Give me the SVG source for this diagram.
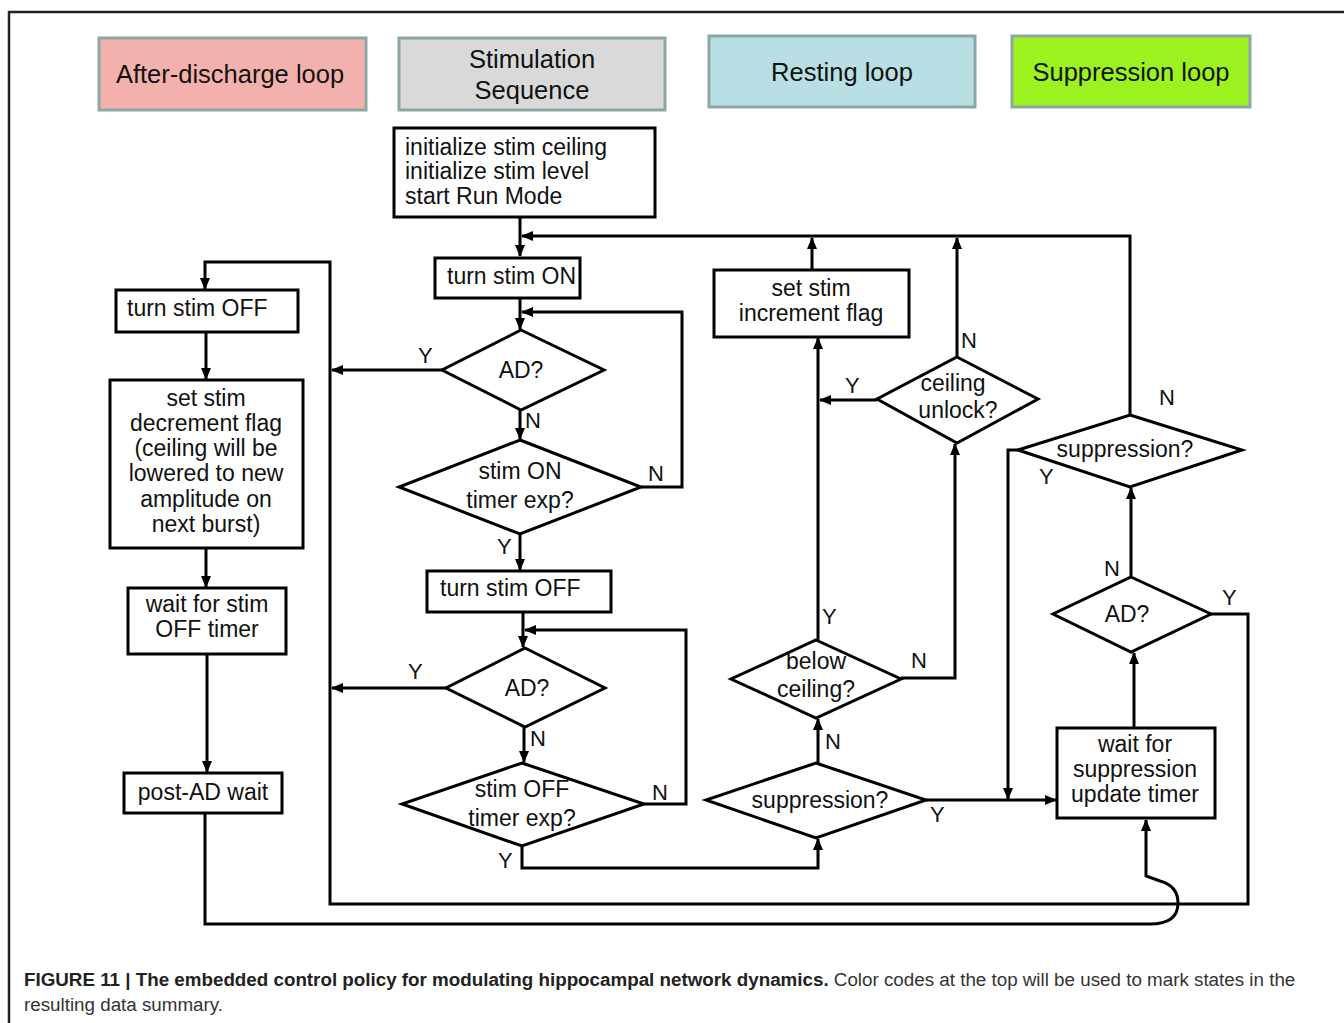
<svg xmlns="http://www.w3.org/2000/svg" width="1344" height="1023" viewBox="0 0 1344 1023">
<style>
.t{font-family:"Liberation Sans",Arial,sans-serif;font-size:23px;fill:#111}
.h{font-family:"Liberation Sans",Arial,sans-serif;font-size:25.5px;fill:#111;text-anchor:middle}
.c{text-anchor:middle}
.lab{font-family:"Liberation Sans",Arial,sans-serif;font-size:22px;fill:#111}
.box{fill:#fff;stroke:#000;stroke-width:3}
.hb{stroke:#8ca6a6;stroke-width:3}
.ln{fill:none;stroke:#000;stroke-width:3;stroke-linejoin:miter}
.cap{font-family:"Liberation Sans",Arial,sans-serif;font-size:18.8px;fill:#333}
</style>
<defs>
<marker id="ar" markerUnits="userSpaceOnUse" markerWidth="12" markerHeight="10" refX="11" refY="5" orient="auto">
<path d="M0,0 L12,5 L0,10 z" fill="#000"/>
</marker>
</defs>
<rect width="1344" height="1023" fill="#fff"/>
<path d="M9,1023 V12 H1344" fill="none" stroke="#222" stroke-width="2.5"/>

<g id="legend">
<g id="leg-ad"><rect class="hb" x="99" y="38" width="267" height="72" fill="#f3b1ae"/><text class="h" x="230" y="83">After-discharge  loop</text></g>
<g id="leg-stim"><rect class="hb" x="399" y="38" width="266" height="72" fill="#d9d9d9"/><text class="h" x="532" y="68">Stimulation</text><text class="h" x="532" y="99">Sequence</text></g>
<g id="leg-rest"><rect class="hb" x="709" y="36" width="266" height="71" fill="#b8dfe3"/><text class="h" x="842" y="81">Resting loop</text></g>
<g id="leg-supp"><rect class="hb" x="1012" y="36" width="238" height="71" fill="#9cf21f"/><text class="h" x="1131" y="81">Suppression loop</text></g>
</g>

<g id="connectors">
<path class="ln" d="M520,217 V256" marker-end="url(#ar)"/>
<path class="ln" d="M1130,415 V236 H522" marker-end="url(#ar)"/>
<path class="ln" d="M520,298 V329" marker-end="url(#ar)"/>
<path class="ln" d="M520,410 V439" marker-end="url(#ar)"/>
<path class="ln" d="M641,487 H682 V312 H522" marker-end="url(#ar)"/>
<path class="ln" d="M442,370 H332" marker-end="url(#ar)"/>
<path class="ln" d="M520,534 V570" marker-end="url(#ar)"/>
<path class="ln" d="M523,612 V647" marker-end="url(#ar)"/>
<path class="ln" d="M446,688 H332" marker-end="url(#ar)"/>
<path class="ln" d="M524,727 V762" marker-end="url(#ar)"/>
<path class="ln" d="M644,804 H686 V630 H525" marker-end="url(#ar)"/>
<path class="ln" d="M522,846 V868 H818 V839" marker-end="url(#ar)"/>
<path class="ln" d="M1211,614 H1248 V904 H330 V262 H205 V289" marker-end="url(#ar)"/>
<path class="ln" d="M206,332 V379" marker-end="url(#ar)"/>
<path class="ln" d="M206,548 V587" marker-end="url(#ar)"/>
<path class="ln" d="M207,654 V772" marker-end="url(#ar)"/>
<path class="ln" d="M205,813 V924 H1150 C1170,924 1178,916 1178,903 C1178,890 1171,884 1160,881 L1146,876 V820" marker-end="url(#ar)"/>
<path class="ln" d="M818,763 V719" marker-end="url(#ar)"/>
<path class="ln" d="M818,640 V338" marker-end="url(#ar)"/>
<path class="ln" d="M812,270 V238" marker-end="url(#ar)"/>
<path class="ln" d="M877,400 H820" marker-end="url(#ar)"/>
<path class="ln" d="M957,357 V238" marker-end="url(#ar)"/>
<path class="ln" d="M901,678 H955 V444" marker-end="url(#ar)"/>
<path class="ln" d="M926,800 H1056" marker-end="url(#ar)"/>
<path class="ln" d="M1018,450 H1008 V799" marker-end="url(#ar)"/>
<path class="ln" d="M1134,728 V653" marker-end="url(#ar)"/>
<path class="ln" d="M1131,577 V488" marker-end="url(#ar)"/>
</g>

<g id="labels">
<text class="lab" x="418" y="363">Y</text>
<text class="lab" x="525" y="428">N</text>
<text class="lab" x="648" y="481">N</text>
<text class="lab" x="497" y="554">Y</text>
<text class="lab" x="408" y="679">Y</text>
<text class="lab" x="530" y="746">N</text>
<text class="lab" x="652" y="800">N</text>
<text class="lab" x="498" y="868">Y</text>
<text class="lab" x="822" y="624">Y</text>
<text class="lab" x="911" y="668">N</text>
<text class="lab" x="825" y="749">N</text>
<text class="lab" x="930" y="822">Y</text>
<text class="lab" x="845" y="393">Y</text>
<text class="lab" x="961" y="348">N</text>
<text class="lab" x="1159" y="405">N</text>
<text class="lab" x="1039" y="484">Y</text>
<text class="lab" x="1104" y="576">N</text>
<text class="lab" x="1222" y="605">Y</text>
</g>

<g id="n-init"><rect class="box" x="394" y="128" width="261" height="89"/><text class="t" x="405" y="155">initialize stim ceiling</text><text class="t" x="405" y="179">initialize stim level</text><text class="t" x="405" y="204">start Run Mode</text></g>
<g id="n-stimon"><rect class="box" x="435" y="258" width="145" height="40"/><text class="t" x="447" y="284">turn  stim ON</text></g>
<g id="n-ad1"><polygon class="box" points="521,330 604,370 521,410 442,370"/><text class="t c" x="521" y="378">AD?</text></g>
<g id="n-ontimer"><polygon class="box" points="520,440 641,487 520,534 399,487"/><text class="t c" x="520" y="479">stim ON</text><text class="t c" x="520" y="508">timer exp?</text></g>
<g id="n-stimoff"><rect class="box" x="427" y="571" width="184" height="41"/><text class="t" x="440" y="596">turn  stim OFF</text></g>
<g id="n-ad2"><polygon class="box" points="525,648 605,688 525,727 446,688"/><text class="t c" x="527" y="696">AD?</text></g>
<g id="n-offtimer"><polygon class="box" points="522,763 644,804 522,846 402,804"/><text class="t c" x="522" y="797">stim OFF</text><text class="t c" x="522" y="826">timer exp?</text></g>

<g id="n-adoff"><rect class="box" x="116" y="290" width="182" height="42"/><text class="t" x="127" y="316">turn  stim OFF</text></g>
<g id="n-decr"><rect class="box" x="110" y="380" width="193" height="168"/>
<text class="t c" x="206" y="406">set stim</text><text class="t c" x="206" y="431">decrement flag</text><text class="t c" x="206" y="456">(ceiling will be</text><text class="t c" x="206" y="481">lowered to new</text><text class="t c" x="206" y="507">amplitude on</text><text class="t c" x="206" y="532">next burst)</text></g>
<g id="n-waitoff"><rect class="box" x="128" y="588" width="158" height="66"/><text class="t c" x="207" y="612">wait  for stim</text><text class="t c" x="207" y="637">OFF timer</text></g>
<g id="n-postad"><rect class="box" x="124" y="773" width="158" height="40"/><text class="t c" x="203" y="800">post-AD wait</text></g>

<g id="n-incr"><rect class="box" x="714" y="270" width="195" height="67"/><text class="t c" x="811" y="296">set stim</text><text class="t c" x="811" y="321">increment flag</text></g>
<g id="n-unlock"><polygon class="box" points="957,357 1038,399 957,443 877,399"/><text class="t c" x="953" y="391">ceiling</text><text class="t c" x="958" y="418">unlock?</text></g>
<g id="n-below"><polygon class="box" points="816,640 901,679 816,718 731,679"/><text class="t c" x="816" y="669">below</text><text class="t c" x="816" y="697">ceiling?</text></g>
<g id="n-supp2"><polygon class="box" points="816,763 926,800 816,838 706,800"/><text class="t c" x="820" y="808">suppression?</text></g>

<g id="n-supp1"><polygon class="box" points="1130,415 1242,450 1130,487 1018,450"/><text class="t c" x="1125" y="457">suppression?</text></g>
<g id="n-ad3"><polygon class="box" points="1131,577 1211,614 1131,652 1053,614"/><text class="t c" x="1127" y="622">AD?</text></g>
<g id="n-waitsupp"><rect class="box" x="1057" y="728" width="158" height="90"/><text class="t c" x="1135" y="752">wait for</text><text class="t c" x="1135" y="777">suppression</text><text class="t c" x="1135" y="802">update timer</text></g>

<g id="caption">
<text class="cap" x="24" y="986"><tspan font-weight="bold" fill="#222">FIGURE 11 | The embedded control policy for modulating hippocampal network dynamics.</tspan> Color codes at the top will be used to mark states in the</text>
<text class="cap" x="24" y="1011">resulting data summary.</text>
</g>
</svg>
